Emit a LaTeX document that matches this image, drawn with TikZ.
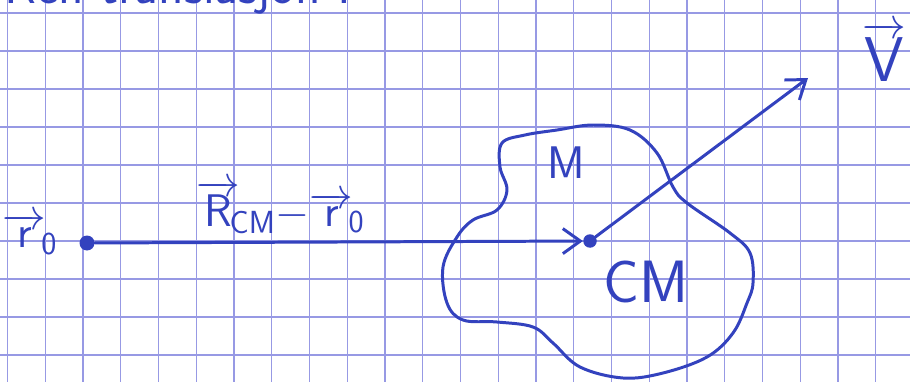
\documentclass[tikz,border=0pt]{standalone}
\usepackage{fontspec}
\usetikzlibrary{arrows.meta, positioning}
\definecolor{Ink}{HTML}{3342BE}
\definecolor{Grid}{HTML}{9799E4}
\tikzset{
  ink/.style={draw=Ink, line width=1.7pt, line cap=round, line join=round},
  sheet/.style={draw=Grid, line width=0.8pt},
  dot/.style={circle, fill=Ink, inner sep=0pt, minimum size=0.3cm},
  lbl/.style={text=Ink, font=\sffamily\fontsize{26}{28}\selectfont, inner sep=1pt},
  biglbl/.style={text=Ink, font=\sffamily\fontsize{34}{36}\selectfont, inner sep=1pt},
  flow/.style={ink, -{Straight Barb[length=3.5mm, width=5mm]}},
}

\begin{document}
\begin{tikzpicture}[x=0.02cm, y=-0.02cm]
    \useasboundingbox (0,0) rectangle (910,382);
    \clip (0,0) rectangle (910,382);
    \fill[white] (0,0) rectangle (910,382);
    % squared paper
    \foreach \i in {0,...,23}
      \draw[sheet] ({7.5+37.75*\i},0) -- ++(0,382);
    \foreach \j in {0,...,9}
      \draw[sheet] (0,{13+38*\j}) -- ++(910,0);
    % heading, cut off by the page edge
    \node[lbl, font=\sffamily\fontsize{30}{32}\selectfont, anchor=base west] (head) at (2,4) {Ren translasjon :};
    % the body M
    \draw[ink] plot[smooth cycle, tension=0.6] coordinates {
      (502,143) (525,135) (557,130) (593,125) (630,130) (657,153)
      (673,187) (687,203) (730,233) (750,253) (753,283) (747,303)
      (733,333) (707,357) (663,373) (623,378) (580,367) (553,343)
      (533,327) (497,322) (463,320) (447,303) (443,267) (457,237)
      (473,220) (497,210) (507,190) (500,167)};
    \node[dot] (r0) at (87,243) {};
    \node[dot, minimum size=0.27cm] (cm) at (590,241) {};
    \coordinate (vend) at (808,78);
    \node[lbl] (r0lbl) at (30,234) {$\overrightarrow{\mathsf{r}}_{\!\mathsf{0}}$};
    \node[lbl] (mlbl) at (566,163) {M};
    \node[biglbl] (cmlbl) at (646,282) {CM};
    \node[lbl, font=\sffamily\fontsize{36}{38}\selectfont] (vlbl) at (884,52) {$\overrightarrow{\mathsf{V}}$};
    \draw[flow] (r0) -- node[lbl, pos=0.38, above=3pt] (dlbl)
      {$\overrightarrow{\mathsf{R}}_{\!\!\mathsf{CM}}{-}\overrightarrow{\mathsf{r}}_{\!\mathsf{0}}$} (cm);
    \draw[flow] (cm) -- (vend);
  \end{tikzpicture}
\end{document}
